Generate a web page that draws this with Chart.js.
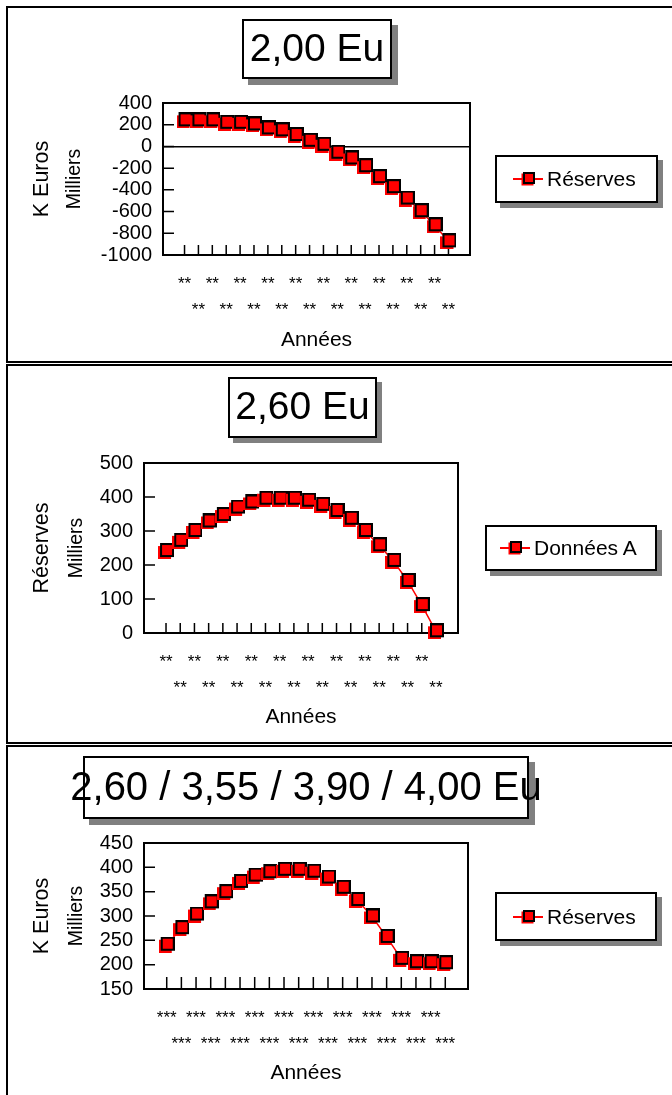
<!DOCTYPE html>
<html>
<head>
<meta charset="utf-8">
<script src="https://cdn.jsdelivr.net/npm/chart.js@4.4.0/dist/chart.umd.min.js"></script>
<style>
  body { margin: 0; background: #fff; font-family: "Liberation Sans", Arial, sans-serif; }
  #page { position: relative; width: 672px; height: 1095px; overflow: hidden; }
  .panel { position: absolute; left: 6px; width: 700px; border: 2px solid #000; box-sizing: border-box; }
  canvas { position: absolute; left: 0; }
  .tbox, .lbox { position: absolute; background: #fff; border: 2px solid #000; box-sizing: border-box;
    white-space: nowrap; display: flex; align-items: center; color: #000; }
  .tbox { font-size: 39px; justify-content: center; box-shadow: 6px 6px 0 #808080; padding-bottom: 3px; }
  .lbox { font-size: 21px; box-shadow: 5px 5px 0 #808080; }
  .mk { position: relative; display: inline-block; width: 30px; height: 14px; margin-right: 4px; }
  .mk i { position: absolute; left: 0; right: 0; top: 6px; height: 2px; background: #f00; }
  .mk b { position: absolute; left: 10px; top: 0; width: 12px; height: 12px; background: #f00;
    border: 2px solid #000; box-sizing: border-box; box-shadow: -1.5px 1.5px 0 #f00; }
</style>
</head>
<body>
<div id="page">
  <div class="panel" style="top:6px;height:357px"></div>
  <div class="panel" style="top:364px;height:380px"></div>
  <div class="panel" style="top:745px;height:400px"></div>

  <canvas id="chart1" width="672" height="363" style="top:0"></canvas>
  <canvas id="chart2" width="672" height="380" style="top:363px"></canvas>
  <canvas id="chart3" width="672" height="352" style="top:743px"></canvas>

  <div class="tbox" style="left:242px;top:19px;width:150px;height:60px">2,00 Eu</div>
  <div class="tbox" style="left:228px;top:377px;width:149px;height:61px;box-shadow:5px 5px 0 #808080">2,60 Eu</div>
  <div class="tbox" style="left:83px;top:756px;width:446px;height:63px;font-size:40px">2,60 / 3,55 / 3,90 / 4,00 Eu</div>

  <div class="lbox" style="left:495px;top:155px;width:163px;height:48px;padding-left:16px"><span class="mk"><i></i><b></b></span>Réserves</div>
  <div class="lbox" style="left:485px;top:525px;width:172px;height:46px;padding-left:13px"><span class="mk"><i></i><b></b></span>Données A</div>
  <div class="lbox" style="left:495px;top:892px;width:162px;height:49px;padding-left:16px"><span class="mk"><i></i><b></b></span>Réserves</div>
</div>
<script>
// values (thousands of euros)
const years1 = ['**', '**', '**', '**', '**', '**', '**', '**', '**', '**', '**', '**', '**', '**', '**', '**', '**', '**', '**', '**'];
const reserves1 = [240, 240, 240, 218, 218, 203, 166, 148, 105, 52, 15, -58, -111, -182, -283, -375, -480, -597, -726, -874];

const years2 = ['**', '**', '**', '**', '**', '**', '**', '**', '**', '**', '**', '**', '**', '**', '**', '**', '**', '**', '**', '**'];
const donneesA = [241, 271, 300, 328, 347, 369, 384, 395, 395, 395, 389, 377, 359, 336, 300, 258, 212, 153, 82, 5];

const years3 = ['***', '***', '***', '***', '***', '***', '***', '***', '***', '***', '***', '***', '***', '***', '***', '***', '***', '***', '***', '***'];
const reserves3 = [241, 275, 303, 328, 349, 370, 383, 390, 395, 395, 391, 379, 358, 333, 299, 257, 212, 205, 205, 203];

Chart.defaults.font.family = '"Liberation Sans", Arial, sans-serif';
Chart.defaults.color = '#000';

// square marker with the little red offset under it
const marker = document.createElement('canvas');
marker.width = 16;
marker.height = 16;
(function () {
  const m = marker.getContext('2d');
  m.fillStyle = '#f00';
  m.fillRect(0, 3, 13, 13);
  m.fillRect(2, 1, 13, 13);
  m.strokeStyle = '#000';
  m.lineWidth = 2;
  m.strokeRect(3, 1, 12, 12);
})();

// plot frame + inward tick marks, like the old spreadsheet charts
const excelFrame = {
  id: 'excelFrame',
  beforeDatasetsDraw(chart, args, opts) {
    const { ctx, chartArea: a, scales: { x, y } } = chart;
    ctx.save();
    ctx.strokeStyle = '#000';
    ctx.lineWidth = 1.5;
    ctx.beginPath();
    x.ticks.forEach(t => {
      const px = x.getPixelForValue(t.value);
      ctx.moveTo(px, a.bottom);
      ctx.lineTo(px, a.bottom - opts.tick);
    });
    y.ticks.forEach(t => {
      const py = y.getPixelForValue(t.value);
      ctx.moveTo(a.left, py);
      ctx.lineTo(a.left + 11, py);
    });
    ctx.stroke();
    ctx.lineWidth = 2;
    ctx.strokeRect(a.left, a.top, a.width, a.height);
    ctx.restore();
  }
};

function makeChart(id, labels, values, name, opt) {
  return new Chart(document.getElementById(id), {
    type: 'line',
    data: {
      datasets: [{
        label: name,
        data: values.map((v, i) => ({ x: i, y: v })),
        borderColor: '#f00',
        borderWidth: 1.5,
        tension: 0,
        pointStyle: marker,
        pointRadius: 8,
        clip: false
      }]
    },
    options: {
      responsive: false,
      animation: false,
      layout: { padding: opt.pad },
      plugins: {
        legend: { display: false },
        tooltip: { enabled: false },
        excelFrame: { tick: opt.tick }
      },
      scales: {
        x: {
          type: 'linear',
          min: -1.55,
          max: 20.55,
          afterBuildTicks: s => { s.ticks = labels.map((l, i) => ({ value: i })); },
          ticks: {
            autoSkip: false,
            maxRotation: 0,
            padding: 16,
            font: { size: 17, lineHeight: 1.56 },
            callback: v => {
              const i = Math.round(v);
              return i % 2 === 0 ? [labels[i], ''] : ['', labels[i]];
            }
          },
          grid: { display: false, drawTicks: false },
          border: { display: false },
          title: { display: true, text: 'Années', font: { size: 21 }, padding: { bottom: opt.xTitlePad } },
          afterFit: s => { s.height = 100; }
        },
        y: {
          min: opt.min,
          max: opt.max,
          ticks: { stepSize: opt.step, autoSkip: false, padding: 11, font: { size: 20 }, callback: v => String(v) },
          grid: {
            drawTicks: false,
            lineWidth: 1.5,
            color: c => (opt.zeroLine && c.tick && c.tick.value === 0) ? '#000' : 'rgba(0,0,0,0)'
          },
          border: { display: false },
          title: { display: true, text: 'Milliers', font: { size: 19.5 }, padding: { top: opt.milPad } },
          afterFit: s => { s.width = opt.yWidth; }
        },
        yk: {
          type: 'linear',
          axis: 'y',
          position: 'left',
          weight: 1,
          ticks: { display: false },
          grid: { display: false },
          border: { display: false },
          title: { display: true, text: opt.yTitle, font: { size: 21.5 }, padding: { top: 29 } },
          afterFit: s => { s.width = 58; }
        }
      }
    },
    plugins: [excelFrame]
  });
}

makeChart('chart1', years1, reserves1, 'Réserves', {
  pad: { left: 0, top: 103, right: 202, bottom: 8 },
  min: -1000, max: 400, step: 200, zeroLine: true,
  yWidth: 105, milPad: 5, xTitlePad: 2, tick: 10, yTitle: 'K Euros'
});

makeChart('chart2', years2, donneesA, 'Données A', {
  pad: { left: 0, top: 100, right: 214, bottom: 10 },
  min: 0, max: 500, step: 100, zeroLine: false,
  yWidth: 86, milPad: 7, xTitlePad: 3, tick: 10, yTitle: 'Réserves'
});

makeChart('chart3', years3, reserves3, 'Réserves', {
  pad: { left: 0, top: 100, right: 204, bottom: 6 },
  min: 150, max: 450, step: 50, zeroLine: false,
  yWidth: 86, milPad: 7, xTitlePad: 3, tick: 12, yTitle: 'K Euros'
});
</script>
</body>
</html>
